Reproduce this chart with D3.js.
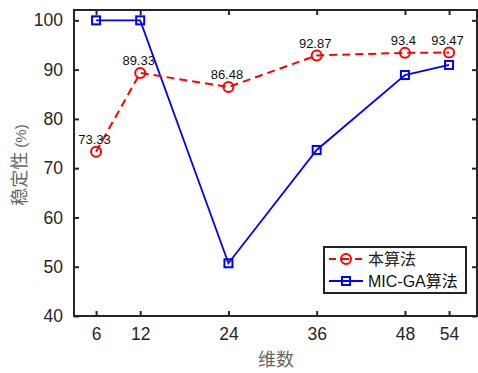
<!DOCTYPE html>
<html><head><meta charset="utf-8">
<script src="https://cdn.jsdelivr.net/npm/d3@7"></script>
<style>body{margin:0;background:#fff}svg{display:block}</style>
</head><body>
<script>
const dims = [6, 12, 24, 36, 48, 54];
const ours = [73.33, 89.33, 86.48, 92.87, 93.4, 93.47];
const micga = [100, 100, 50.7, 73.7, 88.9, 90.95];
const yTicks = [40, 50, 60, 70, 80, 90, 100];
const seriesNames = ["本算法", "MIC-GA算法"];

const W = 478, H = 373;
const svg = d3.select("body").append("svg").attr("width", W).attr("height", H);
const L = 74, R = 477, T = 10, B = 316;
const x = d3.scaleLinear().domain([3, 57.8]).range([L, R]);
const y = d3.scaleLinear().domain([40, 102.1]).range([B, T]);
const axisCol = "#262626";
const latin = "Liberation Sans, Arial, sans-serif";
const cjk = "'Liberation Sans', 'Noto Sans CJK SC', sans-serif";

// box
svg.append("rect").attr("x", L).attr("y", T).attr("width", R - L).attr("height", B - T)
  .attr("fill", "none").attr("stroke", axisCol).attr("stroke-width", 2);

// axes
const xb = svg.append("g").attr("transform", `translate(0,${B})`)
  .call(d3.axisBottom(x).tickValues(dims).tickSizeInner(-5).tickSizeOuter(0).tickPadding(12));
const xt = svg.append("g").attr("transform", `translate(0,${T})`)
  .call(d3.axisTop(x).tickValues(dims).tickSizeInner(-5).tickSizeOuter(0).tickFormat(""));
const yl = svg.append("g").attr("transform", `translate(${L},0)`)
  .call(d3.axisLeft(y).tickValues(yTicks).tickSizeInner(-5).tickSizeOuter(0).tickPadding(11));
const yr = svg.append("g").attr("transform", `translate(${R},0)`)
  .call(d3.axisRight(y).tickValues(yTicks).tickSizeInner(-5).tickSizeOuter(0).tickFormat(""));
[xb, xt, yl, yr].forEach(g => {
  g.select(".domain").remove();
  g.selectAll(".tick line").attr("stroke", axisCol).attr("stroke-width", 2);
  g.selectAll(".tick text").attr("fill", axisCol).attr("font-family", latin).attr("font-size", 17.5);
});

// axis titles
svg.append("text").attr("x", 276).attr("y", 366).attr("text-anchor", "middle")
  .attr("font-family", cjk).attr("font-size", 18).attr("fill", "#666").text("维数");
const yt = svg.append("text").attr("transform", "translate(26,165) rotate(-90)").attr("text-anchor", "middle")
  .attr("font-family", cjk).attr("font-size", 18).attr("fill", "#666");
yt.append("tspan").text("稳定性");
yt.append("tspan").attr("dx", 4).attr("font-size", 15).text("(%)");

const line = d3.line().x(d => x(d[0])).y(d => y(d[1]));
const oursPts = dims.map((d, i) => [d, ours[i]]);
const micPts = dims.map((d, i) => [d, micga[i]]);

// blue series
svg.append("path").datum(micPts).attr("d", line).attr("fill", "none")
  .attr("stroke", "#0000ff").attr("stroke-width", 1.8);
svg.selectAll(".sq").data(micPts).enter().append("rect")
  .attr("x", d => x(d[0]) - 4).attr("y", d => y(d[1]) - 4).attr("width", 8).attr("height", 8)
  .attr("fill", "none").attr("stroke", "#0000ff").attr("stroke-width", 2);

// red series
svg.append("path").datum(oursPts).attr("d", line).attr("fill", "none")
  .attr("stroke", "#ff0000").attr("stroke-width", 2).attr("stroke-dasharray", "8,5");
svg.selectAll(".ci").data(oursPts).enter().append("circle")
  .attr("cx", d => x(d[0])).attr("cy", d => y(d[1])).attr("r", 5)
  .attr("fill", "none").attr("stroke", "#ff0000").attr("stroke-width", 2);
svg.selectAll(".lb").data(oursPts).enter().append("text")
  .attr("x", d => x(d[0]) - 1.5).attr("y", d => y(d[1]) - 7.5).attr("text-anchor", "middle")
  .attr("font-family", latin).attr("font-size", 13).attr("fill", "#111")
  .text(d => String(d[1]));

// legend
const lg = svg.append("g");
lg.append("rect").attr("x", 324).attr("y", 247).attr("width", 142).attr("height", 46)
  .attr("fill", "#fff").attr("stroke", "#222").attr("stroke-width", 2);
lg.append("line").attr("x1", 329).attr("x2", 363).attr("y1", 259).attr("y2", 259)
  .attr("stroke", "#ff0000").attr("stroke-width", 2).attr("stroke-dasharray", "7,6");
lg.append("circle").attr("cx", 346).attr("cy", 259).attr("r", 5)
  .attr("fill", "none").attr("stroke", "#ff0000").attr("stroke-width", 2);
lg.append("line").attr("x1", 329).attr("x2", 363).attr("y1", 281).attr("y2", 281)
  .attr("stroke", "#0000ff").attr("stroke-width", 2);
lg.append("rect").attr("x", 342).attr("y", 277).attr("width", 8).attr("height", 8)
  .attr("fill", "none").attr("stroke", "#0000ff").attr("stroke-width", 2);
lg.append("text").attr("x", 368).attr("y", 265).attr("font-family", cjk).attr("font-size", 16)
  .attr("fill", "#222").text(seriesNames[0]);
lg.append("text").attr("x", 368).attr("y", 287).attr("font-family", cjk).attr("font-size", 16)
  .attr("fill", "#111").text(seriesNames[1]);
</script>
</body></html>
